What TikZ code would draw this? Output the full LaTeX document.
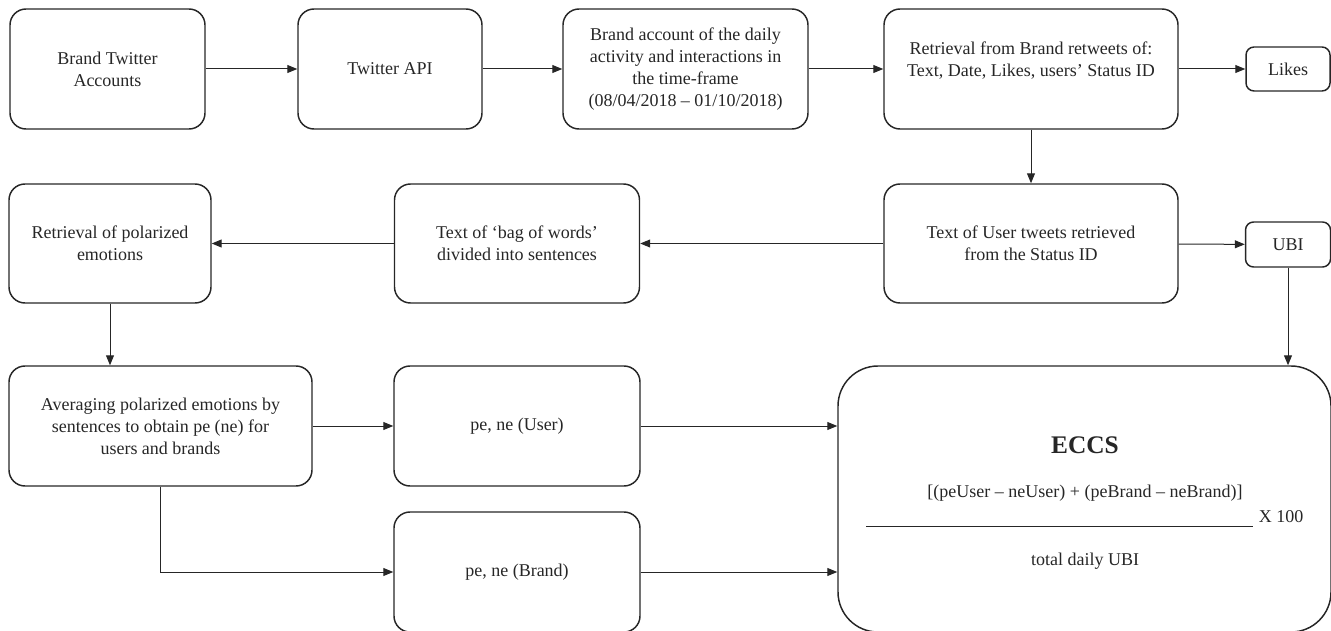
\documentclass[tikz,border=0pt]{standalone}
\usepackage{fontspec}
\setmainfont{Liberation Serif}
\usetikzlibrary{arrows.meta}
\begin{document}
\begin{tikzpicture}[x=0.75pt,y=-0.75pt,
  sz/.style 2 args={minimum width=#1*0.75pt, minimum height=#2*0.75pt},
  box/.style={draw=black!85, line width=1.1pt, rounded corners=12pt, align=center, inner sep=0pt,
              text=black!85, font=\fontsize{13.5}{16.5}\selectfont},
  smallbox/.style={box, rounded corners=6pt},
  bigbox/.style={box, rounded corners=30pt},
  txt/.style={align=center, inner sep=0pt, text=black!85, font=\fontsize{13.5}{16.5}\selectfont},
  arr/.style={draw=black!85, line width=0.75pt, -{Triangle[length=7.5pt,width=6pt]}},
  rule/.style={draw=black!85, line width=0.75pt},
]
\useasboundingbox (0,0) rectangle (1331,631);

% row 1
\node[box, sz={195}{120}] (b1) at (107.5,69) {Brand Twitter\\Accounts};
\node[box, sz={184}{120}] (b2) at (390,69) {Twitter API};
\node[box, sz={245}{120}] (b3) at (685.5,69) {Brand account of the daily\\activity and interactions in\\the time-frame\\(08/04/2018 – 01/10/2018)};
\node[box, sz={294}{120}] (b4) at (1031,69) {};
\node[txt] (b4t) at (1031,61) {Retrieval from Brand retweets of:\\Text, Date, Likes, users’ Status ID};
\node[smallbox, sz={84}{44}] (likes) at (1288,69) {Likes};

% row 2
\node[box, sz={202}{119}] (r2a) at (110,243.5) {Retrieval of polarized\\emotions};
\node[box, sz={245}{119}] (r2b) at (517,243.5) {Text of ‘bag of words’\\divided into sentences};
\node[box, sz={294}{119}] (r2c) at (1031,243.5) {Text of User tweets retrieved\\from the Status ID};
\node[smallbox, sz={85}{45}] (ubi) at (1288,244.5) {UBI};

% row 3
\node[box, sz={303}{120}] (avg) at (160.5,426) {Averaging polarized emotions by\\sentences to obtain pe (ne) for\\users and brands};
\node[box, sz={246}{120}] (peu) at (517,426) {pe, ne (User)};
\node[box, sz={246}{120}] (peb) at (517,572) {pe, ne (Brand)};

% ECCS
\node[bigbox, sz={493}{266}] (eccs) at (1084.5,499) {};
\node[txt, font=\fontsize{19}{22}\selectfont\bfseries] (eccsT) at (1085,445) {ECCS};
\node[txt] (num) at (1085,493) {[(peUser – neUser) + (peBrand – neBrand)]};
\coordinate (ruleL) at (866,526);
\coordinate (ruleR) at (1253,526);
\draw[rule] (ruleL) -- (ruleR);
\node[txt] (times) at (1281,517) {X 100};
\node[txt] (den) at (1085,561) {total daily UBI};

% connectors
\draw[arr] (b1) -- (b2);
\draw[arr] (b2) -- (b3);
\draw[arr] (b3) -- (b4);
\draw[arr] (b4) -- (likes);
\draw[arr] (b4.south) -- (r2c.north);
\draw[arr] (r2c) -- (ubi);
\draw[arr] (r2c) -- (r2b);
\draw[arr] (r2b) -- (r2a);
\draw[arr] (r2a.south) -- (r2a.south |- avg.north);
\draw[arr] (avg) -- (peu);
\draw[arr] (avg.south) |- (peb.west);
\draw[arr] (peu.east) -- (peu.east -| eccs.west);
\draw[arr] (peb.east) -- (peb.east -| eccs.west);
\draw[arr] (ubi.south) -- (ubi.south |- eccs.north);
\end{tikzpicture}
\end{document}
